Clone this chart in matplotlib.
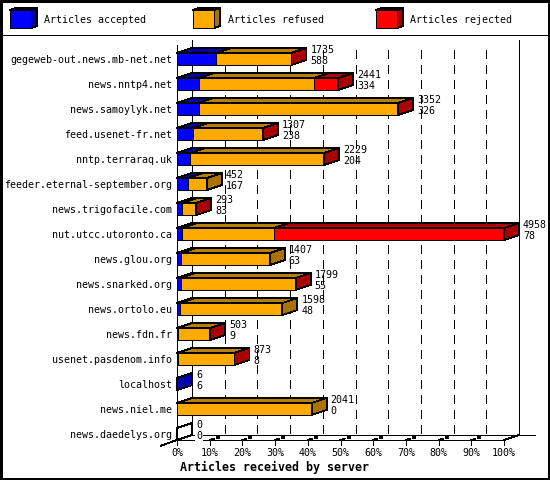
import matplotlib
matplotlib.use("Agg")
import matplotlib.pyplot as plt
from matplotlib.patches import Polygon
from matplotlib.lines import Line2D
from matplotlib.transforms import Affine2D

servers = ["gegeweb-out.news.mb-net.net", "news.nntp4.net", "news.samoylyk.net",
           "feed.usenet-fr.net", "nntp.terraraq.uk", "feeder.eternal-september.org",
           "news.trigofacile.com", "nut.utcc.utoronto.ca", "news.glou.org",
           "news.snarked.org", "news.ortolo.eu", "news.fdn.fr",
           "usenet.pasdenom.info", "localhost", "news.niel.me", "news.daedelys.org"]
totals = [1735, 2441, 3352, 1307, 2229, 452, 293, 4958, 1407, 1799, 1598, 503, 873, 6, 2041, 0]
accepted = [588, 334, 326, 238, 204, 167, 83, 78, 63, 55, 48, 9, 8, 6, 0, 0]
refused = [1141, 1744, 3018, 1064, 2021, 285, 207, 1393, 1344, 1739, 1550, 492, 861, 0, 2041, 0]
rejected = [6, 363, 8, 5, 4, 0, 3, 3487, 0, 5, 0, 2, 4, 0, 0, 0]
series_names = ["Articles accepted", "Articles refused", "Articles rejected"]
pct_ticks = list(range(0, 101, 10))

FRONT = ["#0000ff", "#ffaa00", "#ff0000"]
TOP = ["#0000aa", "#b88000", "#b00000"]
SIDE = ["#0000aa", "#aa7300", "#aa0000"]
W, H = 550, 480
plt.rcParams["font.family"] = "DejaVu Sans Mono"
FS = 7.2

fig = plt.figure(figsize=(W / 100, H / 100), dpi=100, facecolor="white")
L, R, T, B = 177, 504, 40, 440
ax = fig.add_axes([L / W, 1 - B / H, (R - L) / W, (B - T) / H])
ax.set_xlim(0, 100)
ax.set_ylim(16, 0)
ax.patch.set_visible(False)
for s in ax.spines.values():
    s.set_visible(False)

px = Affine2D().scale(1, -1).translate(0, H)
PX = 100 / (R - L)   # percent per pixel
RY = 1 / 25          # rows per pixel
DX, DY = 15 * PX, 5 * RY
BAR = 12 * RY
LW = 0.6


def poly(pts, fc, z):
    ax.add_patch(Polygon(pts, closed=True, fc=fc, ec="black", lw=LW, clip_on=False,
                         antialiased=False, zorder=z))


def line(xs, ys, z=1, **kw):
    ax.add_line(Line2D(xs, ys, color="black", lw=LW, clip_on=False, antialiased=False,
                       zorder=z, **kw))


def figline(xs, ys, z=1, lw=LW):
    fig.add_artist(Line2D(xs, ys, transform=px, color="black", lw=lw, antialiased=False, zorder=z))


# frame
figline([0.5, 548.5, 548.5, 0.5, 0.5], [0.5, 0.5, 478.5, 478.5, 0.5], lw=0.8)
figline([0, 549], [35, 35], lw=0.7)

# legend
for name, fx, fc, tc, sc in zip(series_names, [10, 193, 376], FRONT, TOP, SIDE):
    x0, x1, y0, y1 = fx, fx + 21, 10, 28
    for pts, c in [([(x0, y0), (x0 + 6, y0 - 2), (x1 + 6, y0 - 2), (x1, y0)], tc),
                   ([(x1, y0), (x1 + 6, y0 - 2), (x1 + 6, y1 - 2), (x1, y1)], sc),
                   ([(x0, y0), (x1, y0), (x1, y1), (x0, y1)], fc)]:
        fig.add_artist(Polygon(pts, closed=True, transform=px, fc=c, ec="black", lw=LW,
                               antialiased=False))
    fig.text(x1 + 13.5, 20, name, transform=px, fontsize=FS, va="center", ha="left")

# walls and floor
front_top = DY
line([0, 0], [front_top, 16])
line([DX, DX], [0, 16 - DY])
line([100 + DX, 100 + DX], [0, 16 - DY])
line([0, 100], [16, 16])
line([DX, 100 + DX + 16 * PX], [16 - DY, 16 - DY])
line([-16 * PX, 0, DX], [16 + 5.7 * RY, 16, 16 - DY])
line([100, 100 + DX], [16, 16 - DY])
for p in pct_ticks[1:-1]:
    x = p + DX
    line([x, x], [10 * RY, 16 - DY], linestyle=(0, (10, 8)))

# floor tick marks
for p in pct_ticks:
    line([p, p], [16, 16 + 5 * RY], z=3)
    if 0 < p < 100:
        line([p, p + 4 * PX], [16, 16 - 1.3 * RY], z=3)
        ax.add_patch(Polygon([(p + 6 * PX, 16 - 1 * RY), (p + 10 * PX, 16 - 1 * RY),
                              (p + 10 * PX, 16 - 4 * RY), (p + 6 * PX, 16 - 4 * RY)],
                             closed=True, fc="black", ec="none", clip_on=False, zorder=3))

# bars
peak = max(totals)
for i in range(len(servers)):
    bottom, top = i + 1, i + 1 - BAR
    end = 0
    side = "white"
    z = 5 + i
    for k, v in enumerate((accepted[i], refused[i], rejected[i])):
        if v <= 0:
            continue
        w = v / peak * 100
        poly([(end, top), (end + DX, top - DY), (end + w + DX, top - DY), (end + w, top)], TOP[k], z)
        poly([(end, top), (end + w, top), (end + w, bottom), (end, bottom)], FRONT[k], z + 0.1)
        end += w
        side = SIDE[k]
    poly([(end, top), (end + DX, top - DY), (end + DX, bottom - DY), (end, bottom)], side, z + 0.2)
    tx = end + DX + 4 * PX
    ax.text(tx, bottom - 15 * RY, str(totals[i]), fontsize=FS, va="center", ha="left", zorder=40)
    ax.text(tx, bottom - 4 * RY, str(accepted[i]), fontsize=FS, va="center", ha="left", zorder=40,
            bbox=dict(fc="white", ec="none", pad=1) if totals[i] == 0 else None)

# axis labels
ax.set_yticks([i + 1 - BAR / 2 for i in range(len(servers))], servers, fontsize=FS)
ax.set_xticks(pct_ticks, [f"{p}%" for p in pct_ticks], fontsize=FS)
ax.tick_params(axis="y", length=0, pad=3.6)
ax.tick_params(axis="x", length=0, pad=5.5)
ax.set_xlabel("Articles received by server", fontsize=8.4, fontweight="bold")
ax.xaxis.set_label_coords((274 - L) / (R - L), -(467 - B) / (B - T))
ax.xaxis.label.set_va("center")

fig.savefig("out.png", dpi=100, facecolor="white")
